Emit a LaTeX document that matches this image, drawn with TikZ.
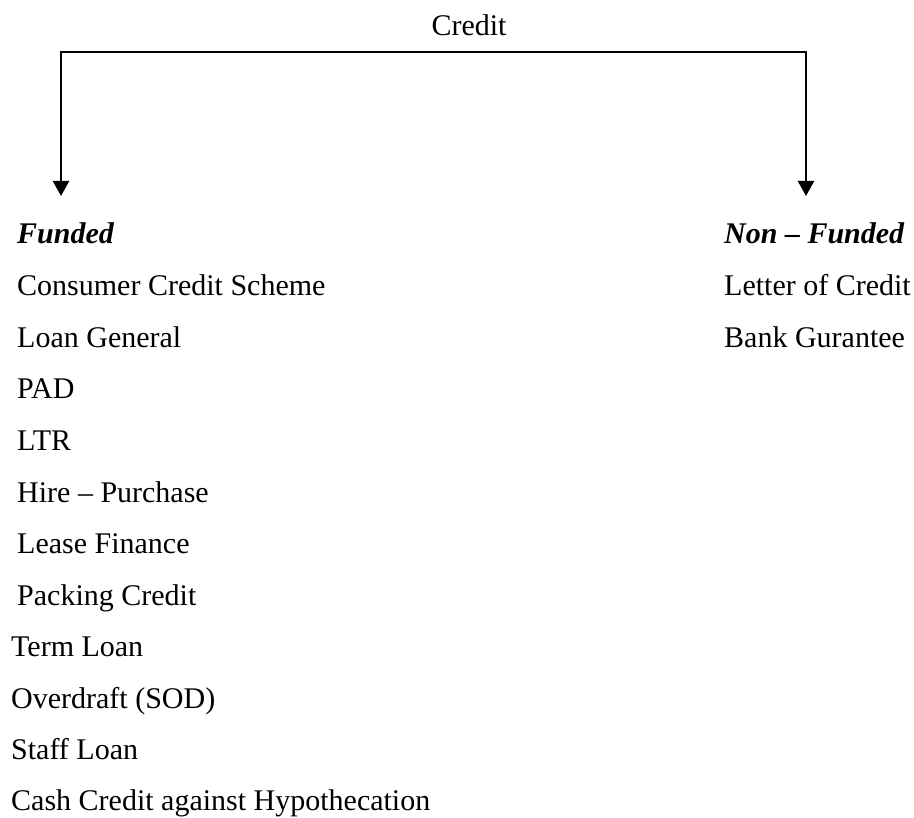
\documentclass[tikz,border=0pt]{standalone}
\usepackage{fontspec}
\setmainfont{Liberation Serif}
\usetikzlibrary{arrows.meta}
\begin{document}
\begin{tikzpicture}[x=1pt,y=-1pt,
  lbl/.style={anchor=base west,inner sep=0pt,font=\fontsize{30}{36}\selectfont},
  hdr/.style={lbl,font=\fontsize{30}{36}\selectfont\bfseries\itshape},
  conn/.style={line width=2.2pt,line join=miter,-{Triangle[width=16pt,length=15pt]}}]
\useasboundingbox[fill=white] (0,0) rectangle (914,818);
\node[anchor=base,inner sep=0pt,font=\fontsize{30}{36}\selectfont] (credit) at (469,36) {Credit};
\coordinate (jl) at (61,52);
\coordinate (jr) at (806,52);
\coordinate (el) at (61,196);
\coordinate (er) at (806,196);
\draw[conn] (jr) -- (jl) -- (el);
\draw[conn] (jl) -- (jr) -- (er);
% Funded column
\node[hdr] (funded) at (17,244) {Funded};
\node[lbl] (f1) at (17,296) {Consumer Credit Scheme};
\node[lbl] (f2) at (17,347.5) {Loan General};
\node[lbl] (f3) at (17,399) {PAD};
\node[lbl] (f4) at (17,451) {LTR};
\node[lbl] (f5) at (17,502.5) {Hire – Purchase};
\node[lbl] (f6) at (17,554) {Lease Finance};
\node[lbl] (f7) at (17,605) {Packing Credit};
\node[lbl] (f8) at (11,656) {Term Loan};
\node[lbl] (f9) at (11,708) {Overdraft (SOD)};
\node[lbl] (f10) at (11,759) {Staff Loan};
\node[lbl] (f11) at (11,810) {Cash Credit against Hypothecation};
% Non-Funded column
\node[hdr] (nonfunded) at (724,244) {Non – Funded};
\node[lbl] (n1) at (724,296) {Letter of Credit};
\node[lbl] (n2) at (724,347.5) {Bank Gurantee};
\end{tikzpicture}
\end{document}
